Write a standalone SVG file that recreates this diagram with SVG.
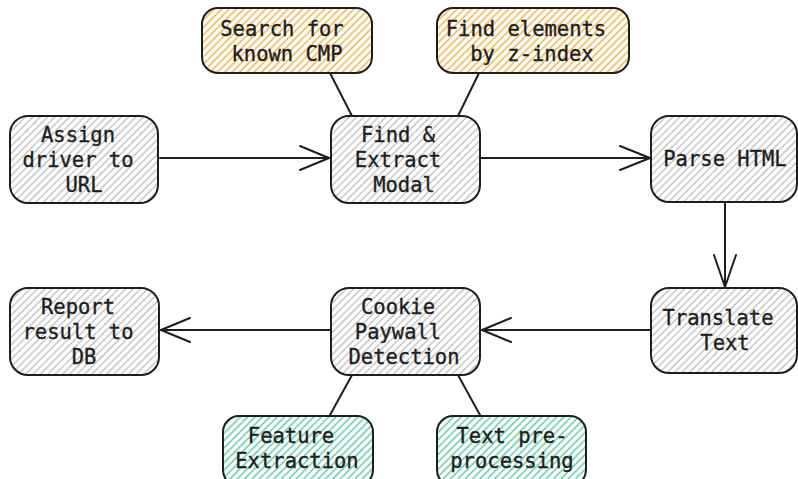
<svg xmlns="http://www.w3.org/2000/svg" width="798" height="479" viewBox="0 0 798 479">
<defs>
<pattern id="hg" width="5.2" height="5.2" patternUnits="userSpaceOnUse" patternTransform="rotate(45)"><line x1="2" y1="0" x2="2" y2="5.2" stroke="#bcbcbc" stroke-width="1.3"/></pattern>
<pattern id="ho" width="5.2" height="5.2" patternUnits="userSpaceOnUse" patternTransform="rotate(45)"><line x1="2" y1="0" x2="2" y2="5.2" stroke="#efb54a" stroke-width="1.5"/></pattern>
<pattern id="hn" width="5.2" height="5.2" patternUnits="userSpaceOnUse" patternTransform="rotate(45)"><line x1="2" y1="0" x2="2" y2="5.2" stroke="#62cba5" stroke-width="1.5"/></pattern>
</defs>
<style>
.box{stroke:#1e1e1e;stroke-width:2}
.g{fill:url(#hg)}
.o{fill:url(#ho)}
.n{fill:url(#hn)}
text{font-family:"DejaVu Sans Mono","Liberation Mono",monospace;font-size:20.5px;fill:#1e1e1e;stroke:#1e1e1e;stroke-width:0.35;text-anchor:middle}
.c{stroke:#1e1e1e;stroke-width:2;fill:none;stroke-linecap:round;stroke-linejoin:round}
</style>
<rect width="798" height="479" fill="#ffffff"/>
<g id="connectors">
<line class="c" x1="330" y1="73" x2="352" y2="116"/>
<line class="c" x1="479" y1="73" x2="458" y2="116"/>
<line class="c" x1="352" y1="375" x2="330" y2="415"/>
<line class="c" x1="458" y1="375" x2="480" y2="415"/>
<line class="c" x1="160" y1="158" x2="329" y2="158"/>
<polyline class="c" points="300,146 329,158 300,170"/>
<line class="c" x1="481" y1="158" x2="650" y2="158"/>
<polyline class="c" points="620,146 650,158 620,170"/>
<line class="c" x1="725" y1="203" x2="725" y2="287"/>
<polyline class="c" points="714,255 725,287 736,255"/>
<line class="c" x1="650" y1="330" x2="482" y2="330"/>
<polyline class="c" points="511,318 482,330 511,342"/>
<line class="c" x1="330" y1="330" x2="161" y2="330"/>
<polyline class="c" points="190,318 161,330 190,342"/>
</g>
<g id="search-cmp"><rect class="box o" x="202" y="8" width="170" height="65" rx="16"/><text x="282" y="36">Search for</text><text x="287" y="61">known CMP</text></g>
<g id="find-zindex"><rect class="box o" x="437" y="8" width="192" height="65" rx="16"/><text x="526" y="36">Find elements</text><text x="532" y="61">by z-index</text></g>
<g id="assign"><rect class="box g" x="10" y="116" width="148" height="87" rx="18"/><text x="78" y="142">Assign</text><text x="78" y="167">driver to</text><text x="84" y="192">URL</text></g>
<g id="find-extract"><rect class="box g" x="331" y="116" width="149" height="87" rx="18"/><text x="398" y="142">Find &amp;</text><text x="398" y="167">Extract</text><text x="404" y="192">Modal</text></g>
<g id="parse"><rect class="box g" x="651" y="116" width="146" height="86" rx="18"/><text x="725" y="166">Parse HTML</text></g>
<g id="translate"><rect class="box g" x="651" y="288" width="146" height="85" rx="18"/><text x="718" y="325">Translate</text><text x="725" y="350">Text</text></g>
<g id="cookie"><rect class="box g" x="331" y="288" width="149" height="87" rx="18"/><text x="398" y="314">Cookie</text><text x="398" y="339">Paywall</text><text x="404" y="364">Detection</text></g>
<g id="report"><rect class="box g" x="10" y="288" width="149" height="87" rx="18"/><text x="78" y="314">Report</text><text x="78" y="339">result to</text><text x="84" y="364">DB</text></g>
<g id="feature"><rect class="box n" x="223" y="416" width="150" height="70" rx="16"/><text x="291" y="443">Feature</text><text x="297" y="468">Extraction</text></g>
<g id="textpre"><rect class="box n" x="437" y="416" width="149" height="70" rx="16"/><text x="512" y="443">Text pre-</text><text x="512" y="468">processing</text></g>
</svg>
